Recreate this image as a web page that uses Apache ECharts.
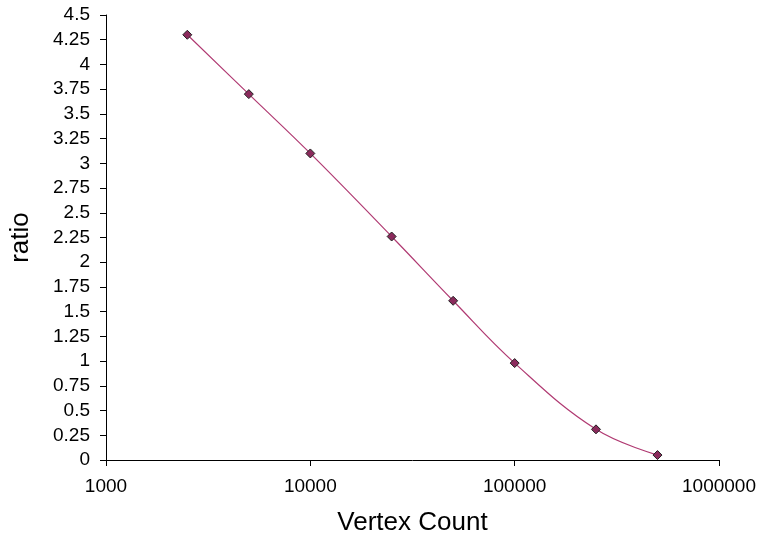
<!DOCTYPE html>
<html>
<head>
<meta charset="utf-8">
<script src="https://cdn.jsdelivr.net/npm/echarts@6/dist/echarts.min.js"></script>
<style>
  html, body { margin: 0; padding: 0; background: #fff; }
  #chart { width: 761px; height: 541px; }
</style>
</head>
<body>
<div id="chart"></div>
<script>
// vertex count vs ratio
const vertexCounts = [2500, 5000, 10000, 25000, 50000, 100000, 250000, 500000]
const ratios = [4.30, 3.70, 3.10, 2.26, 1.61, 0.98, 0.31, 0.05]

const chart = echarts.init(document.getElementById('chart'))
const font = 'Liberation Sans, Arial, sans-serif'

chart.setOption({
  animation: false,
  grid: {
    left: 104,
    right: 42,
    top: 15,
    bottom: 78
  },
  xAxis: {
    type: 'log',
    logBase: 10,
    min: 1000,
    max: 1000000,
    name: 'Vertex Count',
    nameLocation: 'middle',
    nameGap: 50,
    nameTextStyle: { fontFamily: font, fontSize: 26, color: '#000' },
    axisLine: { lineStyle: { color: '#000', width: 1 } },
    axisTick: { show: true, length: 6, lineStyle: { color: '#000' } },
    minorTick: { show: false },
    splitLine: { show: false },
    axisLabel: {
      fontFamily: font,
      fontSize: 19,
      color: '#000',
      margin: 17,
      formatter: v => String(Math.round(v))
    }
  },
  yAxis: {
    type: 'value',
    min: 0,
    max: 4.5,
    interval: 0.25,
    name: 'ratio',
    nameLocation: 'middle',
    nameGap: 72,
    nameRotate: 90,
    nameTextStyle: { fontFamily: font, fontSize: 26, color: '#000' },
    axisLine: { show: true, lineStyle: { color: '#000', width: 1 } },
    axisTick: { show: true, length: 6, lineStyle: { color: '#000' } },
    splitLine: { show: false },
    axisLabel: {
      fontFamily: font,
      fontSize: 19,
      color: '#000',
      margin: 16,
      formatter: v => String(+v.toFixed(2))
    }
  },
  series: [{
    type: 'line',
    data: vertexCounts.map((x, i) => [x, ratios[i]]),
    smooth: 0.4,
    symbol: 'diamond',
    symbolSize: 9,
    lineStyle: { color: '#b03a72', width: 1.2 },
    itemStyle: { color: '#8b2a5c', borderColor: '#222', borderWidth: 1 }
  }]
})
</script>
</body>
</html>
